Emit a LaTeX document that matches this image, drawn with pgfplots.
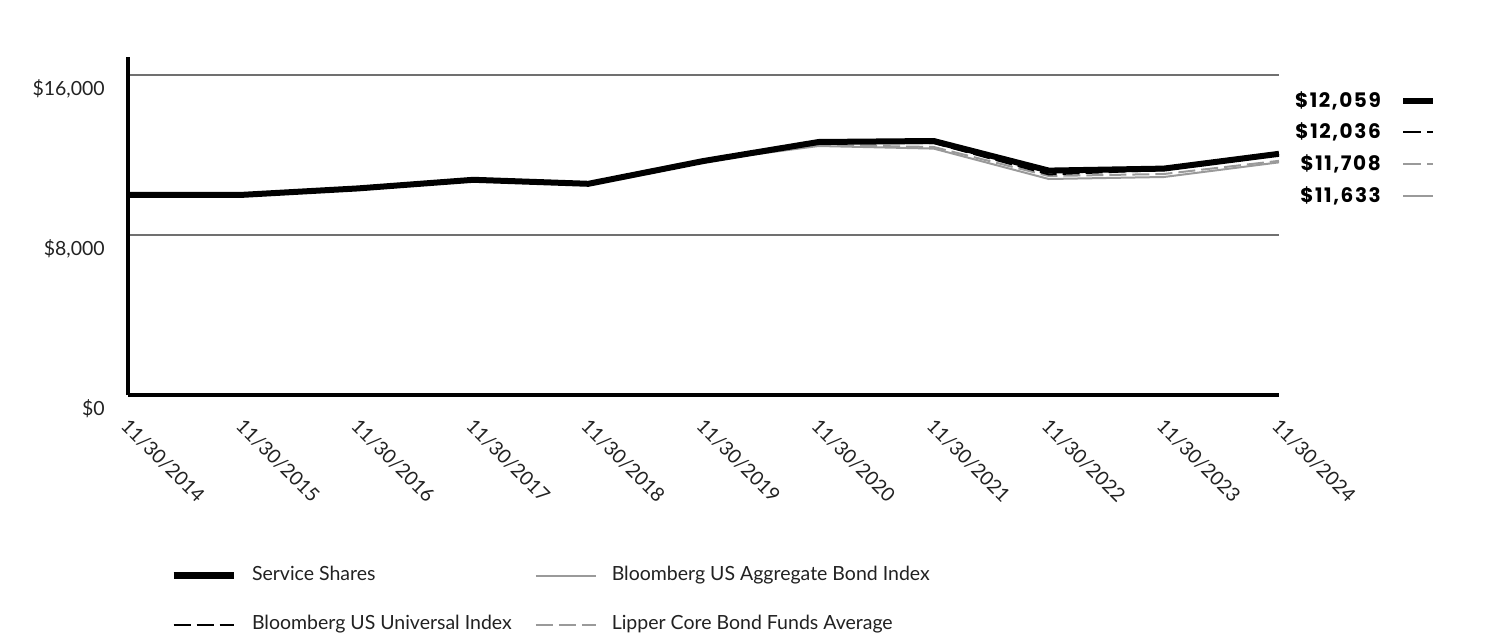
\documentclass[border=0pt]{standalone}
\usepackage{fontspec}
\setmainfont{Lato}
\newfontfamily\numfont{Poppins}[LetterSpace=8]
\usepackage{pgfplots}
\pgfplotsset{compat=1.18}
\definecolor{gridgray}{HTML}{707070}
\definecolor{ltgray}{HTML}{9A9A9A}
\definecolor{txt}{HTML}{222222}

\begin{document}
\begin{tikzpicture}
\useasboundingbox (0,0) rectangle (1512pt,-636pt);
\begin{axis}[
  at={(128pt,-395pt)}, anchor=south west,
  width=1151pt, height=338pt, scale only axis,
  xmin=2014, xmax=2024, ymin=0, ymax=16900,
  axis x line*=bottom, axis y line*=left,
  axis line style={-, line width=4.5pt, black},
  xtick={2014,2015,2016,2017,2018,2019,2020,2021,2022,2023,2024},
  xticklabels={11/30/2014,11/30/2015,11/30/2016,11/30/2017,11/30/2018,11/30/2019,11/30/2020,11/30/2021,11/30/2022,11/30/2023,11/30/2024},
  ytick={0,8000,16000},
  yticklabels={{\$0},{\$8,000},{\$16,000}},
  scaled y ticks=false,
  major tick length=0pt,
  ymajorgrids, grid style={gridgray, line width=1.5pt},
  tick label style={font=\fontsize{19.5}{22}\selectfont, text=txt},
  yticklabel style={anchor=east, inner sep=0pt, xshift=-23pt, yshift=-14pt},
  xticklabel style={inner sep=0pt, xshift=2pt, yshift=-22pt, rotate=-45, anchor=north west},
  legend columns=2,
  legend cell align=left,
  legend image code/.code={\draw[#1] (0pt,0pt) -- (60pt,0pt);},
  legend style={at={(0.0365,-0.51)}, anchor=north west, draw=none,
    inner sep=0pt, outer sep=0pt, font=\fontsize{19.5}{22}\selectfont, text=txt,
    row sep=32pt,
    nodes={inner sep=0pt, text height=13pt, text depth=4pt, anchor=west},
    /tikz/every odd column/.append style={column sep=15pt},
    /tikz/every even column/.append style={column sep=23pt}},
]
\addlegendimage{black, line width=7pt}
\addlegendentry{Service Shares}
\addlegendimage{ltgray, line width=2pt}
\addlegendentry{Bloomberg US Aggregate Bond Index}
\addlegendimage{black, line width=2pt, dash pattern=on 17pt off 6pt}
\addlegendentry{Bloomberg US Universal Index}
\addlegendimage{ltgray, line width=2pt, dash pattern=on 17pt off 6pt}
\addlegendentry{Lipper Core Bond Funds Average}

% Bloomberg US Aggregate Bond Index
\addplot[ltgray, line width=2pt, forget plot] coordinates {
(2014,10000) (2015,10044) (2016,10310) (2017,10680) (2018,10620) (2019,11700)
(2020,12450) (2021,12320) (2022,10800) (2023,10900) (2024,11633)};
% Lipper Core Bond Funds Average
\addplot[ltgray, line width=2pt, dash pattern=on 17pt off 6pt, forget plot] coordinates {
(2014,10000) (2015,10010) (2016,10330) (2017,10750) (2018,10550) (2019,11680)
(2020,12500) (2021,12400) (2022,10950) (2023,11050) (2024,11708)};
% Service Shares
\addplot[black, line width=6pt, line join=round, forget plot] coordinates {
(2014,10000) (2015,10010) (2016,10330) (2017,10760) (2018,10560) (2019,11700)
(2020,12650) (2021,12700) (2022,11220) (2023,11320) (2024,12059)};
% Bloomberg US Universal Index
\addplot[black, line width=2pt, dash pattern=on 17pt off 6pt, forget plot] coordinates {
(2014,10000) (2015,10050) (2016,10370) (2017,10770) (2018,10560) (2019,11720)
(2020,12600) (2021,12600) (2022,11030) (2023,11250) (2024,12036)};
\end{axis}

\begin{scope}[every node/.style={anchor=east, inner sep=0pt, font=\numfont\bfseries\fontsize{20}{23}\selectfont}]
\node at (1381pt,-101pt) {\$12,059};
\node at (1381pt,-132pt) {\$12,036};
\node at (1381pt,-164pt) {\$11,708};
\node at (1381pt,-196pt) {\$11,633};
\end{scope}
\draw[black, line width=6pt] (1403pt,-101pt) -- (1433pt,-101pt);
\draw[black, line width=2pt, dash pattern=on 18pt off 6pt] (1403pt,-132pt) -- (1433pt,-132pt);
\draw[ltgray, line width=2pt, dash pattern=on 18pt off 6pt] (1403pt,-164pt) -- (1433pt,-164pt);
\draw[ltgray, line width=2pt] (1403pt,-196pt) -- (1433pt,-196pt);
\end{tikzpicture}
\end{document}
